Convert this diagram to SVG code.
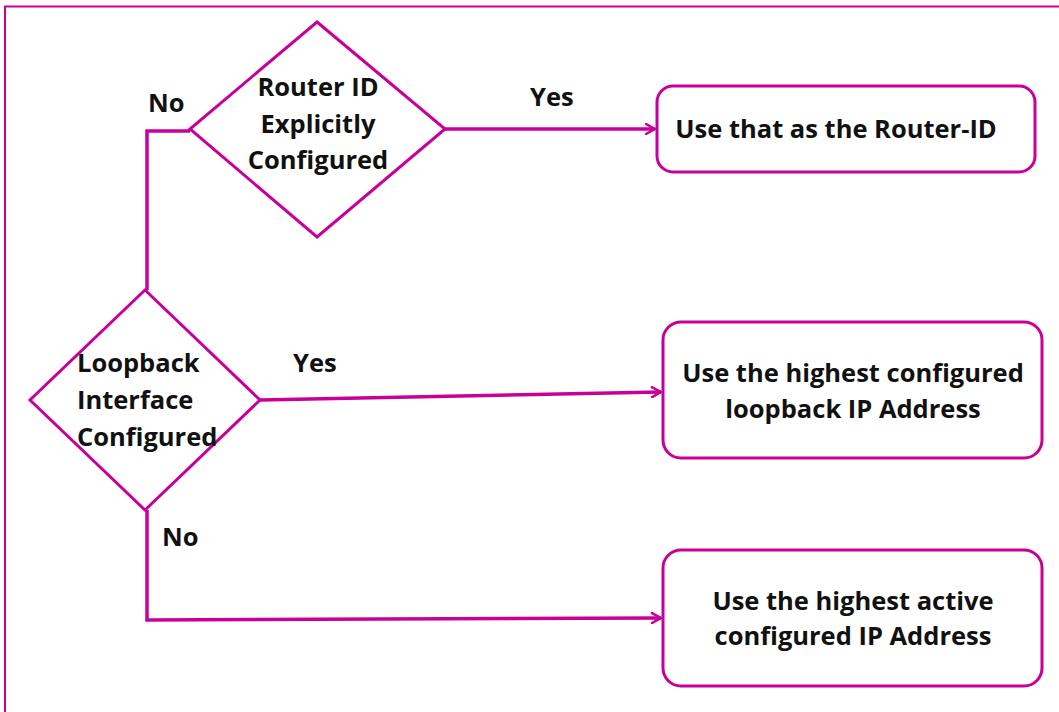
<svg xmlns="http://www.w3.org/2000/svg" width="1059" height="712" viewBox="0 0 1059 712">
<defs>
<marker id="arr" viewBox="0 0 12 12" refX="11" refY="6" markerWidth="12" markerHeight="12" markerUnits="userSpaceOnUse" orient="auto">
<path d="M2,1 L11,6 L2,11" fill="none" stroke="#C8009A" stroke-width="2.5" stroke-linecap="round" stroke-linejoin="round"/>
</marker>
</defs>
<style>
.shape{fill:#ffffff;stroke:#C8009A;stroke-width:3}
.line{fill:none;stroke:#C8009A;stroke-width:3.5}
.t{font-family:"Open Sans","Liberation Sans",sans-serif;font-weight:bold;font-size:25.5px;fill:#111111}
.c{text-anchor:middle}
</style>
<rect width="1059" height="712" fill="#ffffff"/>
<path d="M5,712 L5,6.5 L1059,6.5" fill="none" stroke="#C8009A" stroke-width="2"/>
<g id="connectors">
<path class="line" d="M445,129 L655,129" marker-end="url(#arr)"/>
<path class="line" d="M190,131 L147,131 L147,290"/>
<path class="line" d="M260,400 L661,392" marker-end="url(#arr)"/>
<path class="line" d="M147,510 L147,620 L661,618" marker-end="url(#arr)"/>
</g>
<g id="labels">
<text class="t" x="148" y="112">No</text>
<text class="t" x="530" y="106">Yes</text>
<text class="t" x="293" y="372">Yes</text>
<text class="t" x="162" y="546">No</text>
</g>
<g id="router-id">
<polygon class="shape" points="317,22 445,129 317,237 190,129"/>
<text class="t c" x="318" y="96">Router ID</text>
<text class="t c" x="318" y="133">Explicitly</text>
<text class="t c" x="318" y="169">Configured</text>
</g>
<g id="loopback">
<polygon class="shape" points="145,290 260,400 145,510 30,400"/>
<text class="t" x="77" y="372">Loopback</text>
<text class="t" x="77" y="409">Interface</text>
<text class="t" x="77" y="446">Configured</text>
</g>
<g id="box1">
<rect class="shape" x="657" y="86" width="378" height="86" rx="16"/>
<text class="t c" x="836" y="138">Use that as the Router-ID</text>
</g>
<g id="box2">
<rect class="shape" x="663" y="322" width="379" height="136" rx="18"/>
<text class="t c" x="853" y="382">Use the highest configured</text>
<text class="t c" x="853" y="418">loopback IP Address</text>
</g>
<g id="box3">
<rect class="shape" x="663" y="550" width="379" height="136" rx="18"/>
<text class="t c" x="853" y="610">Use the highest active</text>
<text class="t c" x="853" y="645">configured IP Address</text>
</g>
</svg>
